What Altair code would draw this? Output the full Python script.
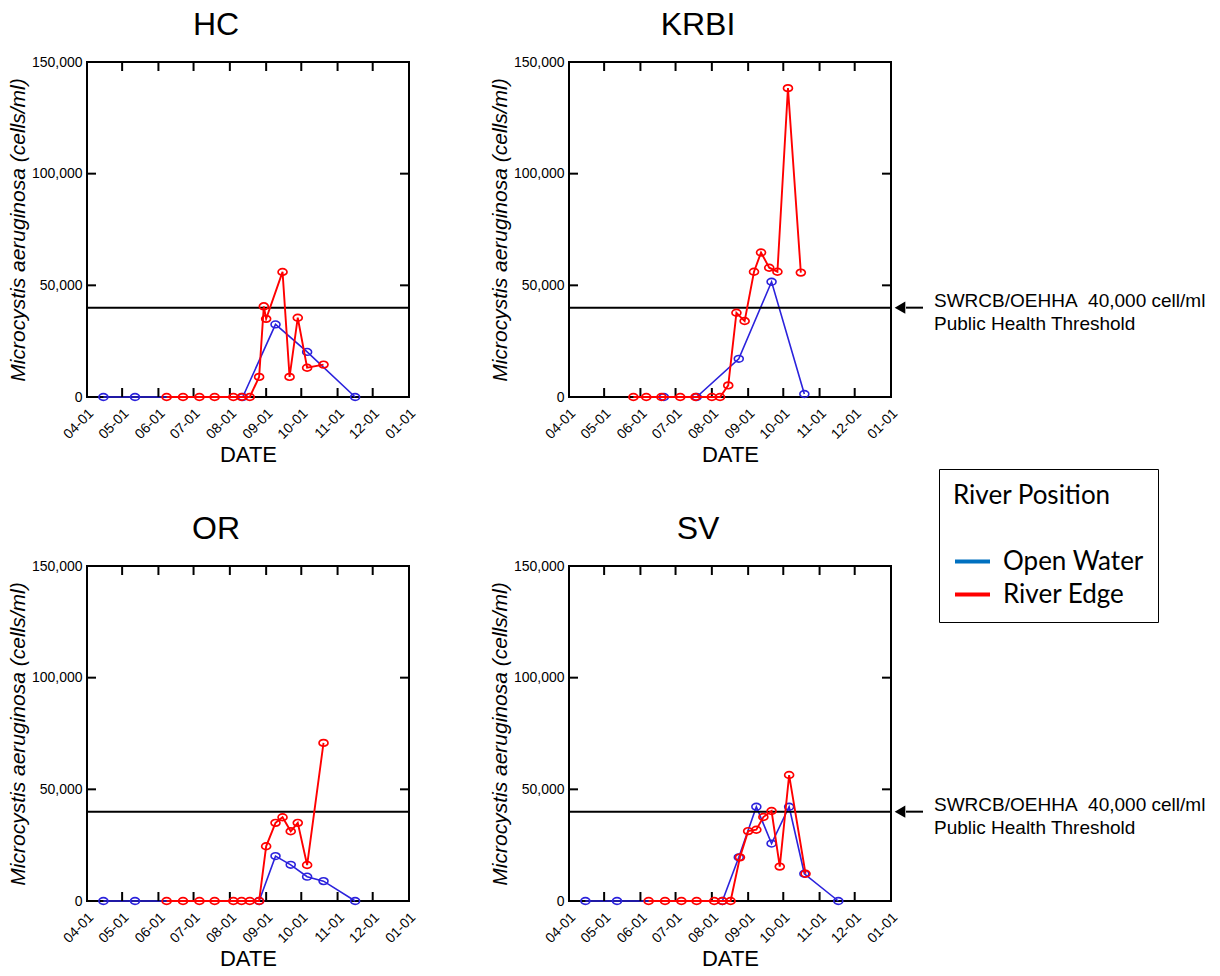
import altair as alt
import pandas as pd

YEAR = 2012

# ---------------- data ----------------
sites = ["HC", "KRBI", "OR", "SV"]
month_ticks = ["2012-04-01", "2012-05-01", "2012-06-01", "2012-07-01", "2012-08-01",
               "2012-09-01", "2012-10-01", "2012-11-01", "2012-12-01", "2013-01-01"]
y_ticks = [0, 50000, 100000, 150000]
threshold = [40000]
threshold_note = ["SWRCB/OEHHA\u00a0 40,000 cell/ml", "Public Health Threshold"]
positions = ["Open Water", "River Edge"]

hc_ow_dates = ["04-15", "05-12", "08-12", "09-09", "10-06", "11-16"]
hc_ow_vals = [0, 0, 0, 32500, 20200, 0]
hc_re_dates = ["06-08", "06-22", "07-06", "07-19", "08-04", "08-11", "08-18", "08-26",
               "08-30", "09-01", "09-15", "09-21", "09-28", "10-06", "10-20"]
hc_re_vals = [0, 0, 0, 0, 0, 0, 0, 9000, 40600, 35000, 56000, 9000, 35500, 13100, 14500]

krbi_ow_dates = ["06-21", "07-19", "08-24", "09-21", "10-19"]
krbi_ow_vals = [0, 0, 17100, 51600, 1350]
krbi_re_dates = ["05-26", "06-06", "06-19", "07-05", "07-18", "08-01", "08-08", "08-15",
                 "08-22", "08-29", "09-06", "09-12", "09-19", "09-26", "10-05", "10-16"]
krbi_re_vals = [0, 0, 0, 0, 0, 0, 0, 5200, 37700, 34000, 56100, 64700, 57900, 56100,
                138300, 55700]

or_ow_dates = ["04-15", "05-12", "08-26", "09-09", "09-22", "10-06", "10-20", "11-16"]
or_ow_vals = [0, 0, 0, 20100, 16200, 10900, 8900, 0]
or_re_dates = ["06-08", "06-22", "07-06", "07-19", "08-04", "08-11", "08-18", "08-26",
               "09-01", "09-09", "09-15", "09-22", "09-28", "10-06", "10-20"]
or_re_vals = [0, 0, 0, 0, 0, 0, 0, 0, 24500, 35000, 37500, 31200, 35000, 16100, 70800]

sv_ow_dates = ["04-15", "05-12", "08-10", "08-24", "09-08", "09-21", "10-06", "10-19", "11-17"]
sv_ow_vals = [0, 0, 0, 19550, 42200, 25700, 42200, 12200, 0]
sv_re_dates = ["06-08", "06-22", "07-06", "07-19", "08-03", "08-10", "08-17", "08-25",
               "09-01", "09-08", "09-14", "09-21", "09-28", "10-06", "10-20"]
sv_re_vals = [0, 0, 0, 0, 0, 0, 0, 19550, 31300, 31900, 37600, 40300, 15400, 56400, 12200]

# ---------------- styling ----------------
W, H = 322, 335
BLUE = "#2b22dc"
RED = "#ff0000"
FONT = "Liberation Sans"
ELLIPSE = "M -1 0 A 1 0.75 0 1 0 1 0 A 1 0.75 0 1 0 -1 0 Z"
TICK = 9
XTITLE = "DATE"
YTITLE = "Microcystis aeruginosa (cells/ml)"


def df_of(dates, vals):
    return pd.DataFrame({"date": [f"{YEAR}-{d}" for d in dates], "value": vals})


def dt(s):
    y, m, d = (int(p) for p in s.split("-"))
    return alt.DateTime(year=y, month=m, date=d, utc=True)


xscale = alt.Scale(type="utc", domain=[dt(month_ticks[0]), dt(month_ticks[-1])], nice=False)
yscale = alt.Scale(domain=[y_ticks[0], y_ticks[-1]], nice=False)

month_df = pd.DataFrame({"d": month_ticks})
ytick_df = pd.DataFrame({"v": y_ticks})
thr_df = pd.DataFrame({"v": threshold})

x_axis = alt.Axis(values=[dt(m) for m in month_ticks], format="%m-%d", labelAngle=-45,
                  labelAlign="right", labelBaseline="middle", labelPadding=14,
                  labelOffset=4, labelOverlap=False, labelFlush=False,
                  labelFont=FONT, labelFontSize=14, labelColor="black",
                  titleFont=FONT, titleFontSize=22, titlePadding=3,
                  titleFontWeight="normal", titleColor="black")
y_axis = alt.Axis(values=y_ticks, format=",.0f", labelPadding=5, labelFlush=False,
                  labelFont=FONT, labelFontSize=14, labelColor="black",
                  titleFont=FONT, titleFontStyle="italic", titleFontSize=21, titlePadding=3,
                  titleFontWeight="normal", titleColor="black")


def X(field):
    return alt.X(field, type="temporal", scale=xscale, axis=x_axis, title=XTITLE)


def Y(field):
    return alt.Y(field, type="quantitative", scale=yscale, axis=y_axis, title=YTITLE)


def panel(site, ow, re, legend=False, note=False):
    ow_df, re_df = df_of(*ow), df_of(*re)
    ow_line = alt.Chart(ow_df).mark_line(color=BLUE, strokeWidth=1.6).encode(
        x=X("date"), y=Y("value"))
    thr = alt.Chart(thr_df).mark_rule(color="black", strokeWidth=2).encode(y=Y("v"))
    tb = alt.Chart(month_df).mark_rule(color="black", strokeWidth=2).encode(
        x=X("d"), y=alt.value(H), y2=alt.value(H - TICK))
    tt = alt.Chart(month_df).mark_rule(color="black", strokeWidth=2).encode(
        x=X("d"), y=alt.value(0), y2=alt.value(TICK))
    tl = alt.Chart(ytick_df).mark_rule(color="black", strokeWidth=2).encode(
        y=Y("v"), x=alt.value(0), x2=alt.value(TICK))
    tr = alt.Chart(ytick_df).mark_rule(color="black", strokeWidth=2).encode(
        y=Y("v"), x=alt.value(W), x2=alt.value(W - TICK))
    ow_pts = alt.Chart(ow_df).mark_point(shape=ELLIPSE, filled=False, color=BLUE, size=80,
                                         strokeWidth=1.6, opacity=1).encode(
        x=X("date"), y=Y("value"))
    re_line = alt.Chart(re_df).mark_line(color=RED, strokeWidth=1.9).encode(
        x=X("date"), y=Y("value"))
    re_pts = alt.Chart(re_df).mark_point(shape=ELLIPSE, filled=False, color=RED, size=80,
                                         strokeWidth=1.7, opacity=1).encode(
        x=X("date"), y=Y("value"))
    title = alt.Chart(thr_df).mark_text(text=site, font=FONT, fontSize=32, align="center",
                                        baseline="alphabetic", color="black").encode(
        x=alt.value(W / 2 - 32), y=alt.value(-27))

    layers = [ow_line, thr, tb, tt, tl, tr, ow_pts, re_line, re_pts, title]

    if note:
        shaft = alt.Chart(thr_df).mark_rule(color="black", strokeWidth=2).encode(
            y=Y("v"), x=alt.value(W + 15), x2=alt.value(W + 32))
        head = alt.Chart(thr_df).mark_point(shape="triangle-left", filled=True, size=150,
                                            color="black", opacity=1).encode(
            y=Y("v"), x=alt.value(W + 9))
        txt = alt.Chart(thr_df).mark_text(text=threshold_note, align="left",
                                          baseline="alphabetic", font=FONT, fontSize=19,
                                          lineHeight=23, dy=-1, color="black").encode(
            y=Y("v"), x=alt.value(W + 43))
        layers += [shaft, head, txt]

    if legend:
        leg_df = pd.DataFrame({"date": [month_ticks[0]] * 2, "value": [0, 0], "pos": positions})
        leg = alt.Chart(leg_df).mark_line(strokeWidth=4).encode(
            x=X("date"), y=Y("value"),
            color=alt.Color("pos:N",
                            scale=alt.Scale(domain=positions, range=["#0070C0", "#FF0000"]),
                            legend=alt.Legend(
                                title="River Position", orient="none",
                                legendX=852, legendY=407,
                                strokeColor="black", padding=14,
                                titleFont="Lato", titleFontSize=26, titleFontWeight="normal",
                                titleColor="black", titlePadding=33,
                                labelFont="Lato", labelFontSize=26, labelColor="black",
                                labelBaseline="middle", labelOffset=11,
                                symbolType="stroke", symbolSize=1225,
                                symbolStrokeWidth=4, rowPadding=0)))
        layers.append(leg)

    return alt.layer(*layers).properties(width=W, height=H)


hc = panel(sites[0], (hc_ow_dates, hc_ow_vals), (hc_re_dates, hc_re_vals))
krbi = panel(sites[1], (krbi_ow_dates, krbi_ow_vals), (krbi_re_dates, krbi_re_vals),
             legend=True, note=True)
orp = panel(sites[2], (or_ow_dates, or_ow_vals), (or_re_dates, or_re_vals))
sv = panel(sites[3], (sv_ow_dates, sv_ow_vals), (sv_re_dates, sv_re_vals), note=True)

chart = alt.concat(hc, krbi, orp, sv, columns=2, spacing={"row": 169, "column": 160}).properties(
    bounds="flush",
    padding={"left": 6, "top": 8, "right": 0, "bottom": 0},
).configure_view(stroke="black", strokeWidth=2).configure_axis(
    grid=False, ticks=False, tickSize=0, domain=False,
)

chart.save("out.html", embed_options={"renderer": "svg", "actions": False})
